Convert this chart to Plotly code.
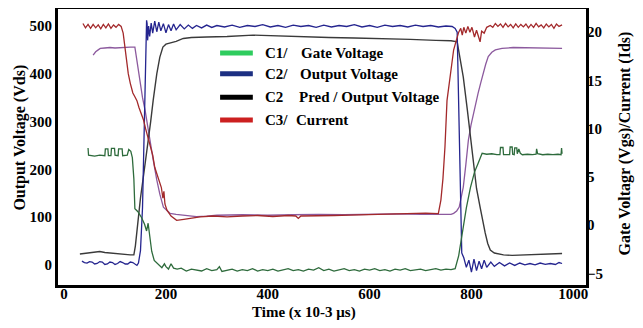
import plotly.graph_objects as go

# ---- data ----
x_ticks = [0, 200, 400, 600, 800, 1000]
left_ticks = [0, 100, 200, 300, 400, 500]
right_ticks = [-5, 0, 5, 10, 15, 20]

# C1 gate voltage (right axis units)
gate = [(47,8.0),(48,7.25),(60,7.15),(70,7.25),(80,7.2),(81,7.9),(86,7.9),(87,7.2),(92,7.2),(93,7.95),(99,7.95),(100,7.25),
        (106,7.2),(107,7.9),(114,7.9),(115,7.2),(124,7.25),(127,7.85),(131,7.65),(134,7.0),(137,4.8),(139,1.7),(145,1.4),
        (152,0.8),(158,0.1),(162,-0.6),(165,0.2),(168,-1.2),(172,-2.7),(177,-3.65),(185,-4.05),(192,-4.4),(197,-4.0),
        (200,-4.3),(205,-4.55),(210,-4.0),(215,-4.45),(222,-4.55),(230,-4.45),(240,-4.75),(250,-4.55),(260,-4.65),
        (270,-4.75),(280,-4.5),(290,-4.7),(300,-4.6),(305,-4.3),(310,-4.8),(320,-4.65),(330,-4.55),(340,-4.75),
        (350,-4.6),(360,-4.7),(370,-4.5),(380,-4.75),(390,-4.6),(400,-4.7),(410,-4.55),(420,-4.75),(430,-4.6),
        (440,-4.5),(450,-4.7),(460,-4.6),(470,-4.75),(480,-4.55),(490,-4.65),(500,-4.4),(510,-4.7),(520,-4.55),
        (530,-4.75),(540,-4.6),(550,-4.5),(560,-4.7),(570,-4.6),(580,-4.75),(590,-4.55),(600,-4.65),(610,-4.5),
        (620,-4.7),(630,-4.6),(640,-4.75),(650,-4.55),(660,-4.65),(670,-4.5),(680,-4.7),(690,-4.6),(700,-4.55),
        (710,-4.7),(720,-4.6),(730,-4.5),(740,-4.65),(750,-4.55),(760,-4.6),(768,-4.5),(775,-3.15),(782,-0.8),
        (790,1.8),(798,3.9),(806,5.5),(813,6.4),(818,7.0),(821,7.45),(830,7.35),(840,7.4),(850,7.3),(856,7.3),
        (857,8.05),(862,8.05),(863,7.3),(870,7.3),(875,7.3),(876,8.1),(880,8.1),(881,7.35),(884,7.3),(885,8.0),
        (889,8.0),(890,7.4),(893,7.9),(896,7.45),(900,7.3),(910,7.35),(920,7.3),(927,7.35),(928,7.9),(930,7.4),
        (940,7.3),(950,7.35),(960,7.3),(970,7.35),(976,7.3),(977,8.0),(978,7.4)]

# C2 output voltage (left axis units)
output_v = [(35,8),(40,5),(45,4),(50,7),(55,6),(60,2),(65,3),(70,7),(75,6),(80,1),(85,2),(90,6),(95,5),(100,1),(105,3),
            (110,7),(115,5),(120,2),(125,2),(130,6),(135,5),(140,0),(143,-1),(146,4),(150,30),(154,120),(157,250),
            (159,380),(161,470),(162,512),(163,505),(164,470),(166,500),(168,478),(171,506),(174,485),(178,510),
            (182,488),(186,508),(190,490),(195,505),(200,486),(205,503),(210,490),(215,504),(220,492),(228,503),
            (236,494),(244,502),(252,495),(260,501),(270,496),(280,502),(290,497),(300,501),(315,498),(330,502),
            (345,497),(360,501),(375,499),(390,503),(405,498),(420,501),(435,497),(450,502),(465,499),(480,501),
            (495,497),(510,502),(525,498),(540,501),(555,499),(570,503),(585,498),(600,501),(615,497),(630,502),
            (645,499),(660,501),(675,498),(690,502),(705,499),(720,501),(735,498),(750,500),(762,499),(768,495),
            (772,487),(776,300),(779,100),(781,25),(785,15),(790,-5),(795,10),(800,-15),(805,12),(810,-12),(815,8),
            (820,-8),(825,10),(830,-5),(838,6),(845,-3),(855,5),(865,-2),(875,4),(885,-1),(895,4),(905,0),(915,3),
            (925,0),(935,4),(945,1),(955,3),(965,1),(972,5),(978,3)]

# C2 predicted output voltage (left axis units)
pred_v = [(31,23),(40,24),(50,25),(60,27),(70,28),(80,26),(90,25),(100,24),(110,22),(120,21),(130,21),(137,21),(140,40),
          (145,90),(150,140),(157,195),(163,240),(170,300),(175,345),(182,400),(188,435),(194,456),(200,462),(210,465),
          (220,468),(234,474),(250,476),(280,477),(320,478),(371,481),(420,479),(470,478),(520,476),(570,475),(620,474),
          (680,472),(730,470),(760,469),(772,467),(784,393),(792,324),(798,265),(804,205),(810,160),(817,121),(822,90),
          (827,67),(832,45),(837,31),(845,25),(855,22),(863,21),(880,20),(900,21),(930,22),(960,23),(978,24)]

# C3 current (right axis units)
current = [(37,20.9),(42,20.45),(47,20.8),(52,20.4),(57,20.8),(62,20.45),(67,20.75),(72,20.35),(77,20.8),(82,20.45),
           (87,20.85),(92,20.4),(97,20.75),(102,20.5),(107,20.8),(112,20.6),(116,19.9),(121,17.65),(126,15.7),(130,14.7),
           (135,13.7),(139,13.3),(143,12.9),(147,12.2),(152,11.5),(156,10.9),(160,10.0),(165,9.0),(169,8.5),(174,7.25),
           (178,6.0),(182,5.35),(187,4.3),(191,3.9),(194,2.8),(196,3.5),(198,2.2),(202,1.55),(210,0.95),(221,0.5),
           (235,0.6),(250,0.75),(267,0.85),(293,0.95),(320,0.85),(350,0.95),(380,1.0),(410,0.9),(440,1.0),(455,0.95),
           (460,0.7),(465,0.95),(500,0.95),(530,1.0),(560,1.05),(600,1.1),(640,1.15),(680,1.2),(710,1.25),(735,1.2),
           (740,2.6),(744,4.8),(748,8.1),(752,12.9),(755,14.2),(758,15.7),(762,17.15),(765,18.15),(770,19.1),(775,20.0),
           (779,20.4),(782,19.7),(785,20.5),(789,19.9),(793,20.6),(797,20.0),(801,20.5),(806,19.5),(810,20.2),(814,19.4),
           (817,19.0),(820,20.1),(825,19.9),(830,20.5),(837,20.7),(842,20.5),(847,20.9),(852,20.6),(857,20.85),(862,20.5),
           (867,20.9),(872,20.55),(877,20.8),(882,20.45),(887,20.85),(892,20.5),(897,20.8),(902,20.55),(907,20.85),
           (912,20.45),(917,20.8),(922,20.5),(927,20.9),(932,20.55),(937,20.75),(942,20.45),(947,20.85),(952,20.55),
           (957,20.8),(962,20.4),(967,20.85),(972,20.6),(978,20.75)]

# unlabelled purple trace (left axis units)
purple = [(57,439),(62,446),(67,450),(71,453),(80,454),(90,455),(100,454),(110,455),(120,456),(130,456),(139,456),
          (144,420),(149,380),(154,350),(159,324),(164,290),(169,261),(175,220),(182,178),(188,148),(195,121),(202,113),
          (208,108),(220,106),(240,103),(260,101),(280,102),(300,104),(350,105),(400,104),(450,105),(500,106),(550,105),
          (600,106),(650,107),(700,106),(740,107),(760,106),(765,108),(771,113),(776,121),(780,140),(784,163),(789,210),
          (794,261),(799,292),(804,318),(808,340),(813,359),(818,380),(823,401),(828,420),(833,436),(840,445),(847,450),
          (860,453),(882,455),(920,454),(950,453),(978,453)]

legend_keys = ["C1/", "C2/", "C2", "C3/"]
legend_names = ["Gate Voltage", "Output Voltage", "Pred / Output Voltage", "Current"]

SERIF = "Liberation Serif, Times New Roman, serif"

def xs(p): return [a for a, b in p]
def ys(p): return [b for a, b in p]

fig = go.Figure()
fig.add_trace(go.Scatter(x=xs(purple), y=ys(purple), mode="lines", line=dict(color="#8c5a9e", width=1.3), yaxis="y"))
fig.add_trace(go.Scatter(x=xs(pred_v), y=ys(pred_v), mode="lines", line=dict(color="#3a3a3a", width=1.4), yaxis="y"))
fig.add_trace(go.Scatter(x=xs(gate), y=ys(gate), mode="lines", line=dict(color="#2e6b3c", width=1.3), yaxis="y2"))
fig.add_trace(go.Scatter(x=xs(current), y=ys(current), mode="lines", line=dict(color="#a3292b", width=1.3), yaxis="y2"))
fig.add_trace(go.Scatter(x=xs(output_v), y=ys(output_v), mode="lines", line=dict(color="#25258f", width=1.3), yaxis="y"))

tickfont = dict(family=SERIF, size=15, color="black", weight="bold")

# the page body adds an 8px offset, so the figure is 8px smaller with smaller left/top margins
fig.update_layout(
    width=635, height=320,
    margin=dict(l=50, r=57, t=1, b=43, autoexpand=False),
    paper_bgcolor="white", plot_bgcolor="white",
    showlegend=False,
    xaxis=dict(range=[-12, 1025], tickvals=x_ticks, showgrid=False, zeroline=False,
               showline=True, linecolor="black", linewidth=3, mirror=True, ticks="",
               tickfont=tickfont, ticklabelstandoff=-7),
    yaxis=dict(range=[-42, 535.6], tickvals=left_ticks, showgrid=False, zeroline=False,
               showline=True, linecolor="black", linewidth=3, mirror=True, ticks="",
               tickfont=tickfont),
    yaxis2=dict(range=[-6.2, 22.4], tickvals=right_ticks, overlaying="y", side="right",
                showgrid=False, zeroline=False, showline=False, ticks="",
                tickfont=tickfont),
)

titlefont = dict(family=SERIF, size=16, color="black", weight="bold")
fig.add_annotation(text="Output Voltage (Vds)", xref="paper", yref="paper", x=-0.072, y=0.534,
                   textangle=-90, showarrow=False, font=titlefont, xanchor="center", yanchor="middle")
fig.add_annotation(text="Gate Voltagr (Vgs)/Current (Ids)", xref="paper", yref="paper", x=1.074, y=0.513,
                   textangle=-90, showarrow=False, font=titlefont, xanchor="center", yanchor="middle")
fig.add_annotation(text="Time (x 10-3 μs)", xref="paper", yref="paper", x=0.466, y=-0.101,
                   showarrow=False, font=dict(family=SERIF, size=15, color="black", weight="bold"),
                   xanchor="center", yanchor="middle")

# legend drawn inside the plot
leg_colors = ["#2ecc5e", "#1c2f82", "#000000", "#cc2020"]
leg_rows = [0.841, 0.765, 0.680, 0.598]
leg_name_x = [0.456, 0.455, 0.453, 0.447]
legfont = dict(family=SERIF, size=15, color="black", weight="bold")
for c, yy, k, n, nx in zip(leg_colors, leg_rows, legend_keys, legend_names, leg_name_x):
    fig.add_shape(type="line", xref="paper", yref="paper", x0=0.307, x1=0.369, y0=yy, y1=yy,
                  line=dict(color=c, width=5))
    fig.add_annotation(text=k, xref="paper", yref="paper", x=0.388, y=yy, showarrow=False,
                       font=legfont, xanchor="left", yanchor="middle")
    fig.add_annotation(text=n, xref="paper", yref="paper", x=nx, y=yy, showarrow=False,
                       font=legfont, xanchor="left", yanchor="middle")

fig.write_html("out.html")
